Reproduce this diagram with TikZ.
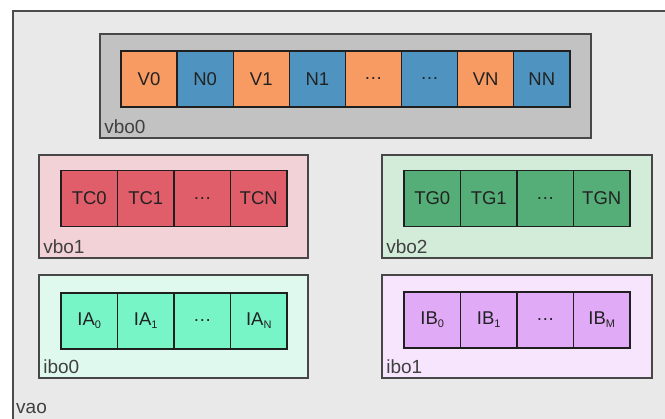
\documentclass[tikz,border=0pt]{standalone}
\usepackage{fontspec}
\setmainfont{Liberation Sans}
\begin{document}
\definecolor{vaobg}{HTML}{E9E9E9}
\definecolor{vbozero}{HTML}{C2C2C2}
\definecolor{vcol}{HTML}{F79B63}
\definecolor{ncol}{HTML}{4F94C0}
\definecolor{vboone}{HTML}{F2D2D6}
\definecolor{tccol}{HTML}{E05E6A}
\definecolor{vbotwo}{HTML}{D3ECD9}
\definecolor{tgcol}{HTML}{55AD77}
\definecolor{ibozero}{HTML}{E0F9EE}
\definecolor{iacol}{HTML}{77F5C6}
\definecolor{iboone}{HTML}{F6E5FD}
\definecolor{ibcol}{HTML}{E0AAF7}
\definecolor{txt}{HTML}{222222}
\newcommand{\sbs}[1]{\raisebox{-0.3ex}{\fontsize{11}{11}\selectfont #1}}
\begin{tikzpicture}[x=1pt,y=-1pt,
  buf/.style={draw=black!72, line width=1.7pt, inner sep=0pt},
  cell/.style={draw=black!88, line width=1.4pt, inner sep=0pt,
    minimum width=56.3pt, minimum height=56pt, text=txt,
    font=\fontsize{18.5}{18.5}\selectfont},
  tag/.style={anchor=base west, inner sep=0pt, text=black!75,
    font=\fontsize{19}{19}\selectfont}]
  \useasboundingbox (0,0) rectangle (665,419);
  \fill[white] (0,0) rectangle (665,419);
  % vertex array object
  \begin{scope}
    \clip (0,0) rectangle (665,419);
    \draw[fill=vaobg, draw=black!70, line width=1.6pt] (13,11) rectangle (690,440);
  \end{scope}
  \coordinate (vaolbl) at (16,414);
  \node[tag] (vao) at (vaolbl) {vao};

  % buffers
  \node[buf, fill=vbozero, minimum width=491pt, minimum height=104pt] (vbo0) at (345.5,86) {};
  \node[buf, fill=vboone, minimum width=269pt, minimum height=103pt] (vbo1) at (173.5,206.5) {};
  \node[buf, fill=vbotwo, minimum width=270pt, minimum height=103pt] (vbo2) at (517,206.5) {};
  \node[buf, fill=ibozero, minimum width=269pt, minimum height=103pt] (ibo0) at (173.5,326.5) {};
  \node[buf, fill=iboone, minimum width=270pt, minimum height=103pt] (ibo1) at (517,326.5) {};
  \foreach \b in {vbo0,vbo1,vbo2,ibo0,ibo1}
    \node[tag] (\b-lbl) at ([shift={(5,-5)}]\b.south west) {\b};

  % interleaved vertex/normal cells
  \foreach \t [count=\i from 0] in {V0,N0,V1,N1,\dots,\dots,VN,NN} {
    \pgfmathsetmacro{\cx}{121+28.05+\i*56.1}
    \ifodd\i \def\cc{ncol}\else\def\cc{vcol}\fi
    \node[cell, fill=\cc, minimum width=56.1pt] (c0-\i) at (\cx,79) {\t};
  }
  % texture coordinate cells
  \foreach \t [count=\i from 0] in {TC0,TC1,\dots,TCN}
    \node[cell, fill=tccol] (c1-\i) at (61+28.25+\i*56.5,198.5) {\t};
  \foreach \t [count=\i from 0] in {TG0,TG1,\dots,TGN}
    \node[cell, fill=tgcol] (c2-\i) at (404+28.25+\i*56.5,198.5) {\t};
  % index cells
  \foreach \t [count=\i from 0] in {IA\sbs{0},IA\sbs{1},\dots,IA\sbs{N}}
    \node[cell, fill=iacol] (c3-\i) at (61+28.25+\i*56.5,321) {\t};
  \foreach \t [count=\i from 0] in {IB\sbs{0},IB\sbs{1},\dots,IB\sbs{M}}
    \node[cell, fill=ibcol] (c4-\i) at (404+28.25+\i*56.5,320) {\t};
\end{tikzpicture}
\end{document}
